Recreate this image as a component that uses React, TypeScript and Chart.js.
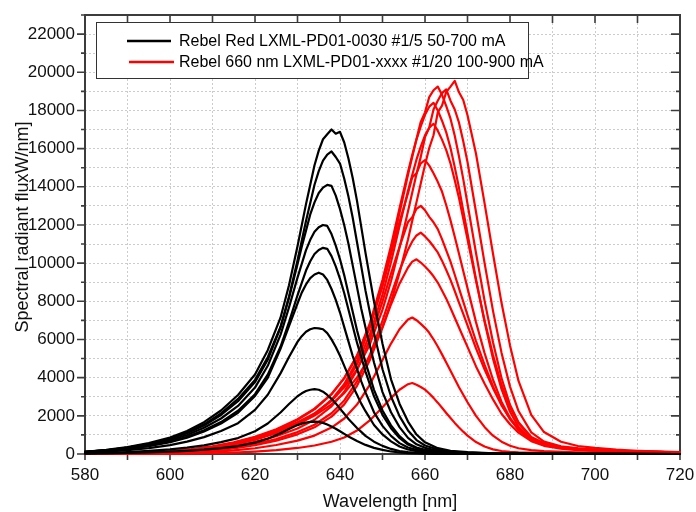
import React, { useEffect, useRef } from 'react';
import { Chart, registerables } from 'chart.js';

Chart.register(...registerables);

// ---------- axis / tick settings ----------
const X_MIN = 580;
const X_MAX = 720;
const X_STEP = 10;
const X_LABEL_STEP = 20;
const Y_MIN = 0;
const Y_MAX = 23000;
const Y_STEP = 1000;
const Y_LABEL_STEP = 2000;

const X_TITLE = 'Wavelength [nm]';
const Y_TITLE = 'Spectral radiant fluxW/nm]';
const LEGEND_LABELS = [
  'Rebel Red LXML-PD01-0030 #1/5 50-700 mA',
  'Rebel 660 nm LXML-PD01-xxxx #1/20 100-900 mA',
];
const BLACK = '#000000';
const RED = '#ff0000';

// ---------- Rebel Red (black) spectra ----------
const WL_BLACK = [580,585,590,595,600,604,608,612,616,620,623,626,628,630,631,632,633,634,635,636,637,638,639,640,641,642,643,644,645,646,648,650,652,654,656,658,660,663,666,670,675,680,690,700,720];

const B1 = [119,213,357,578,867,1207,1666,2278,3094,4165,5440,7140,8840,10880,11985,13090,14110,15130,15895,16490,16750,17000,16780,16880,16320,15470,14450,13260,11900,10540,7990,5780,3910,2635,1700,1020,612,306,170,94,46,24,10,5,0];
const B2 = [111,198,333,539,808,1125,1553,2124,2885,3883,5072,6657,8242,10144,11174,12205,13156,14107,14820,15375,15690,15850,15560,15216,14424,13473,12363,11095,9827,8559,6340,4438,3012,1981,1236,729,444,238,127,76,38,19,8,4,0];
const B3 = [113,197,331,522,783,1086,1495,2045,2764,3765,4935,6627,8178,9940,10857,11703,12549,13184,13677,13959,14100,14050,13536,12831,11985,10998,9870,8742,7614,6627,4794,3243,2186,1410,846,508,324,169,99,56,28,17,7,3,0];
const B4 = [108,186,312,480,720,996,1380,1860,2520,3480,4620,6240,7680,9240,9960,10680,11220,11640,11880,12000,11950,11520,10920,10200,9360,8400,7440,6480,5640,4800,3360,2280,1500,936,552,336,216,120,72,42,22,12,5,2,0];
const B5 = [97,167,281,432,648,896,1242,1674,2268,3132,4158,5616,6912,8316,8964,9612,10098,10476,10692,10800,10750,10368,9828,9180,8424,7560,6696,5832,5076,4320,3024,2052,1350,842,497,302,194,108,65,38,20,11,4,2,0];
const B6 = [95,162,266,409,618,855,1178,1596,2157,3040,3990,5510,6698,7885,8455,8883,9215,9405,9500,9405,9120,8645,8075,7410,6650,5890,5130,4465,3800,3230,2185,1473,950,570,342,219,143,76,52,29,14,8,3,1,0];
const B7 = [73,125,205,310,469,647,884,1201,1617,2310,3102,4224,5082,5874,6171,6402,6534,6600,6580,6534,6336,6006,5610,5148,4620,4092,3564,3102,2640,2244,1518,1023,660,396,238,152,99,53,36,20,10,5,2,1,0];
const B8 = [37,65,105,160,241,333,456,619,833,1190,1598,2176,2618,3026,3179,3298,3366,3400,3366,3264,3094,2890,2652,2380,2108,1836,1598,1360,1156,952,646,425,265,156,95,61,41,22,14,8,4,2,1,0,0];
const B9 = [19,32,53,80,120,167,228,310,417,595,799,1088,1309,1513,1590,1649,1683,1700,1683,1632,1547,1445,1326,1190,1054,918,799,680,578,476,323,213,133,78,48,31,21,11,7,4,2,1,0,0,0];

// ---------- Rebel 660 nm (red) spectra ----------
const WL_RED = [580,590,600,605,610,615,620,625,630,634,638,641,644,647,650,652,654,656,657,658,659,660,661,662,663,664,665,666,667,668,669,670,672,674,676,678,680,682,685,688,692,696,700,705,710,720];

const R1 = [20,51,125,215,342,528,782,1134,1564,2014,2600,3187,4008,5083,6647,7957,9482,11241,12219,13196,14174,15151,16031,16700,17900,18250,18964,19250,19550,18950,18550,17750,15730,13160,10490,7920,5690,3830,2050,1150,640,420,320,230,170,95];
const R2 = [21,52,130,225,361,554,827,1199,1662,2120,2789,3495,4431,5730,7564,9053,10811,12721,13695,14669,15567,16600,17100,18050,18508,18909,19100,18510,18050,17360,16390,15300,12680,10030,7500,5310,3530,2250,1130,650,400,292,230,172,132,82];
const R3 = [21,54,142,243,397,616,901,1301,1821,2375,3138,3975,5101,6738,8913,10665,12628,14630,15573,16497,17400,17900,18700,19058,19250,18820,18230,17570,16670,15590,14400,13110,10530,8050,5850,3980,2580,1660,890,560,366,280,221,168,131,83];
const R4 = [18,50,129,228,377,589,868,1251,1785,2337,3128,3974,5170,6826,9126,10911,12880,14775,15658,16486,17167,17774,18198,18400,18000,17460,16850,16030,15030,13950,12750,11560,9160,6940,4990,3400,2210,1420,770,515,350,265,212,162,127,81];
const R5 = [16,40,107,190,317,498,761,1125,1592,2111,2803,3598,4688,6245,8356,10051,11937,13788,14619,15432,16106,16695,17092,17300,16940,16470,15920,15220,14340,13410,12330,11250,9080,7010,5190,3630,2420,1610,865,554,363,272,220,166,130,87];
const R6 = [14,37,102,183,306,493,745,1086,1555,2064,2834,3665,4866,6622,8778,10472,12166,13660,14500,14700,15231,15400,15110,14710,14260,13750,13030,12240,11380,10490,9590,8690,6910,5300,3890,2740,1880,1250,724,477,323,246,200,154,122,83];
const R7 = [10,30,83,151,256,416,634,930,1339,1794,2496,3263,4394,5993,7995,9451,10855,12150,12400,12844,13000,12770,12420,12140,11780,11260,10670,10080,9390,8680,7980,7280,5920,4680,3540,2600,1820,1300,754,494,312,239,191,151,121,82];
const R8 = [8,23,64,118,203,332,522,783,1148,1531,2134,2807,3805,5185,6983,8329,9616,10707,11136,11449,11600,11400,11160,10870,10560,10130,9640,9120,8540,7930,7340,6740,5530,4440,3450,2550,1870,1320,780,487,313,232,182,147,116,79];
const R9 = [6,19,53,100,176,292,460,699,1030,1397,1958,2601,3570,4906,6620,7834,8925,9772,10078,10200,10030,9820,9590,9310,8980,8570,8140,7650,7140,6630,6120,5610,4590,3690,2860,2110,1560,1120,673,428,286,208,163,136,106,72];
const R10 = [3,10,30,57,107,186,300,472,701,965,1387,1859,2588,3625,4919,5784,6535,7043,7150,7010,6820,6610,6350,6010,5630,5220,4790,4360,3930,3500,3100,2710,2000,1420,960,645,430,300,205,153,114,93,76,59,49,32];
const R11 = [1,3,10,19,38,71,126,205,316,446,640,867,1228,1760,2448,2939,3367,3657,3720,3630,3510,3370,3170,2940,2690,2420,2150,1890,1630,1390,1170,963,625,391,242,156,114,88,67,54,42,33,26,21,16,10];

const BLACK_SERIES = [B1, B2, B3, B4, B5, B6, B7, B8, B9];
const RED_SERIES = [R1, R2, R3, R4, R5, R6, R7, R8, R9, R10, R11];

const FONT = "'Liberation Sans', Arial, Helvetica, sans-serif";
const AXIS_COLOR = '#3c3c3c';

function toPoints(xs: number[], ys: number[]) {
  const n = Math.min(xs.length, ys.length);
  const out: { x: number; y: number }[] = [];
  for (let i = 0; i < n; i++) out.push({ x: xs[i], y: ys[i] });
  return out;
}

function makeDataset(xs: number[], ys: number[], color: string) {
  return {
    data: toPoints(xs, ys),
    borderColor: color,
    backgroundColor: color,
    borderWidth: 2.2,
    pointRadius: 0,
    pointHoverRadius: 0,
    fill: false,
    tension: 0,
    clip: 4,
    borderJoinStyle: 'round',
    borderCapStyle: 'round',
  };
}

const framePlugin = {
  id: 'frameTicks',
  beforeDatasetsDraw(chart: any) {
    const { ctx, chartArea } = chart;
    const { left, right, top, bottom } = chartArea;
    const xs = chart.scales.x;
    const ys = chart.scales.y;
    ctx.save();
    ctx.strokeStyle = AXIS_COLOR;
    ctx.lineWidth = 1.6;
    ctx.beginPath();
    for (let v = Y_MIN; v <= Y_MAX; v += Y_STEP) {
      const py = ys.getPixelForValue(v);
      const major = v % Y_LABEL_STEP === 0;
      ctx.moveTo(left - (major ? 8 : 4), py);
      ctx.lineTo(left, py);
      ctx.moveTo(right, py);
      ctx.lineTo(right - (major ? 9 : 4), py);
    }
    for (let v = X_MIN; v <= X_MAX; v += X_STEP) {
      const px = xs.getPixelForValue(v);
      ctx.moveTo(px, bottom);
      ctx.lineTo(px, bottom + 6);
      ctx.moveTo(px, top);
      ctx.lineTo(px, top + 8);
    }
    ctx.stroke();
    ctx.lineWidth = 2;
    ctx.strokeRect(left, top, right - left, bottom - top);
    ctx.restore();
  },
};

const overlayPlugin = {
  id: 'overlay',
  afterDraw(chart: any) {
    const { ctx } = chart;
    ctx.save();
    // legend box
    ctx.fillStyle = '#ffffff';
    ctx.fillRect(96, 22, 432, 56);
    ctx.strokeStyle = '#333333';
    ctx.lineWidth = 1;
    ctx.strokeRect(96.5, 22.5, 432, 56);
    const rows = [
      { y: 41, color: BLACK, x0: 127, x1: 171 },
      { y: 62, color: RED, x0: 129, x1: 174 },
    ];
    ctx.font = `16px ${FONT}`;
    ctx.textBaseline = 'middle';
    ctx.textAlign = 'left';
    rows.forEach((r, i) => {
      ctx.strokeStyle = r.color;
      ctx.lineWidth = 2.5;
      ctx.beginPath();
      ctx.moveTo(r.x0, r.y);
      ctx.lineTo(r.x1, r.y);
      ctx.stroke();
      ctx.fillStyle = '#000';
      ctx.fillText(LEGEND_LABELS[i], 179, r.y + 1);
    });
    // axis titles
    ctx.fillStyle = '#111';
    ctx.font = `18px ${FONT}`;
    ctx.textAlign = 'center';
    ctx.textBaseline = 'alphabetic';
    ctx.fillText(X_TITLE, 390, 507);
    ctx.translate(28, 227);
    ctx.rotate(-Math.PI / 2);
    ctx.fillText(Y_TITLE, 0, 0);
    ctx.restore();
  },
};

export default function App() {
  const ref = useRef<HTMLCanvasElement | null>(null);

  useEffect(() => {
    const canvas = ref.current;
    if (!canvas) return;
    const datasets: any[] = [];
    BLACK_SERIES.forEach((s) => datasets.push(makeDataset(WL_BLACK, s, BLACK)));
    RED_SERIES.forEach((s) => datasets.push(makeDataset(WL_RED, s, RED)));

    const chart = new Chart(canvas, {
      type: 'line',
      data: { datasets },
      options: {
        responsive: false,
        animation: false,
        devicePixelRatio: 1,
        events: [],
        layout: { padding: { left: 0, right: 16, top: 15, bottom: 0 } },
        plugins: {
          legend: { display: false },
          tooltip: { enabled: false },
          title: { display: false },
        },
        scales: {
          x: {
            type: 'linear',
            min: X_MIN,
            max: X_MAX,
            afterFit: (s: any) => {
              s.height = 58;
              s.paddingLeft = 0;
              s.paddingRight = 0;
            },
            grid: {
              color: '#cccccc',
              lineWidth: 1,
              drawTicks: false,
            },
            border: { display: false, dash: [2, 2] },
            ticks: {
              stepSize: X_STEP,
              autoSkip: false,
              maxRotation: 0,
              padding: 11,
              color: '#111',
              font: { family: FONT, size: 17 },
              callback: (v: any) => (Number(v) % X_LABEL_STEP === 0 ? String(v) : ''),
            },
          },
          y: {
            type: 'linear',
            min: Y_MIN,
            max: Y_MAX,
            afterFit: (s: any) => {
              s.width = 85;
              s.paddingTop = 0;
              s.paddingBottom = 0;
            },
            grid: {
              color: '#cccccc',
              lineWidth: 1,
              drawTicks: false,
            },
            border: { display: false, dash: [2, 2] },
            ticks: {
              stepSize: Y_STEP,
              autoSkip: false,
              maxTicksLimit: 100,
              padding: 10,
              color: '#111',
              font: { family: FONT, size: 17 },
              callback: (v: any) => (Number(v) % Y_LABEL_STEP === 0 ? String(v) : ''),
            },
          },
        },
      } as any,
      plugins: [framePlugin, overlayPlugin],
    });
    return () => chart.destroy();
  }, []);

  return (
    <div style={{ position: 'absolute', left: 0, top: 0, width: 696, height: 512, background: '#ffffff' }}>
      <canvas ref={ref} width={696} height={512} style={{ display: 'block', width: 696, height: 512 }} />
    </div>
  );
}
